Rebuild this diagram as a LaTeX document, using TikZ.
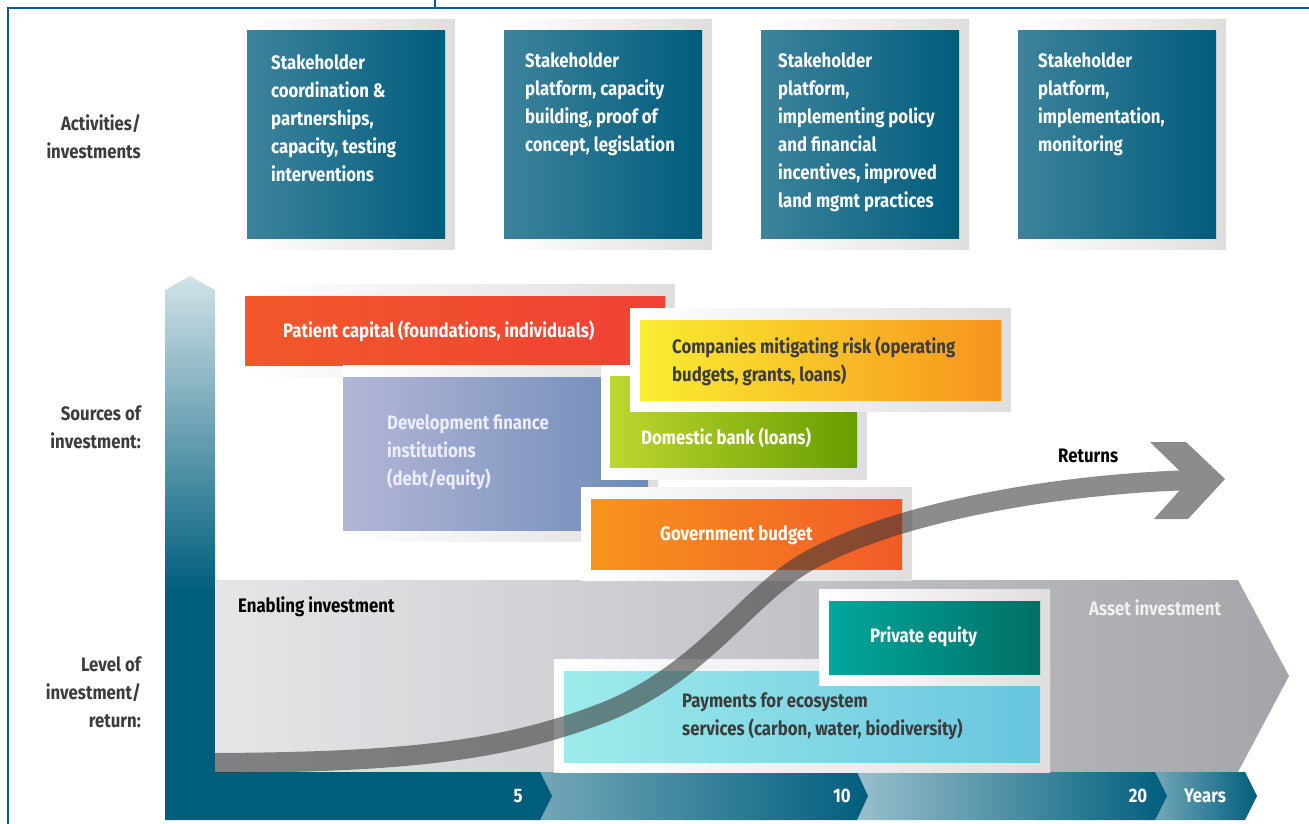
\documentclass[tikz,border=0pt]{standalone}
\usepackage{fontspec}
\setmainfont{Fira Sans}[FakeStretch=0.86]
\usetikzlibrary{calc}
\definecolor{frameblue}{RGB}{0,95,134}
\definecolor{tealdark}{RGB}{0,92,124}
\definecolor{teallight}{RGB}{62,131,156}
\definecolor{tealaxis}{RGB}{0,94,125}
\definecolor{axistop}{RGB}{210,226,232}
\definecolor{shadowgray}{RGB}{224,221,221}
\definecolor{labelgray}{RGB}{60,60,60}
\definecolor{bandlight}{RGB}{229,230,232}
\definecolor{bandmid}{RGB}{206,207,210}
\definecolor{banddark}{RGB}{164,165,169}
\definecolor{patientl}{RGB}{241,88,42}
\definecolor{patientr}{RGB}{239,65,54}
\definecolor{devl}{RGB}{180,182,214}
\definecolor{devr}{RGB}{109,139,184}
\definecolor{bankl}{RGB}{190,214,48}
\definecolor{bankr}{RGB}{104,157,0}
\definecolor{compl}{RGB}{249,237,50}
\definecolor{compr}{RGB}{247,148,29}
\definecolor{govl}{RGB}{247,148,29}
\definecolor{govr}{RGB}{241,90,41}
\definecolor{equityl}{RGB}{0,167,157}
\definecolor{equityr}{RGB}{0,112,101}
\definecolor{pesl}{RGB}{158,235,234}
\definecolor{pesr}{RGB}{104,197,224}
\definecolor{returnsgray}{RGB}{58,56,57}

\tikzset{
  txt/.style={font=\fontsize{19.5}{28}\selectfont\bfseries, inner sep=0pt, align=left},
  panel/.style={left color=white, right color=shadowgray},
  actbox/.style={left color=teallight, right color=tealdark},
  sidelabel/.style={txt, align=right, anchor=east, labelgray},
}

\begin{document}
\begin{tikzpicture}[x=1pt, y=-1pt]
    \useasboundingbox (0,0) rectangle (1309,824);

    % frame
    \draw[frameblue, line width=2] (8,824) -- (8,8) -- (1309,8);
    \draw[frameblue, line width=2] (435,0) -- (435,8);

    % activities
    \shade[panel] (247,20) rectangle (455,249);
    \shade[actbox] (247,31) rectangle (445,238);
    \shade[panel] (504,20) rectangle (712,249);
    \shade[actbox] (504,31) rectangle (702,238);
    \shade[panel] (761,20) rectangle (969,249);
    \shade[actbox] (761,31) rectangle (959,238);
    \shade[panel] (1018,20) rectangle (1226,249);
    \shade[actbox] (1018,31) rectangle (1216,238);

    % vertical axis
    \shade[top color=axistop, bottom color=tealaxis]
        (165,290) -- (190,276) -- (215,290) -- (215,590) -- (165,590) -- cycle;
    \fill[tealaxis] (165,589) rectangle (215,820);

    % enabling / asset band
    \shade[left color=bandlight, middle color=bandmid, right color=banddark]
        (215,580) -- (1238,580) -- (1289,676) -- (1238,772) -- (215,772) -- cycle;

    % sources of investment
    \shade[panel] (245,284) rectangle (675,377);
    \shade[left color=patientl, right color=patientr] (245,296) rectangle (665,365);
    \shade[panel] (343,365) rectangle (658,541);
    \shade[left color=devl, middle color=devr, right color=devr] (343,377) rectangle (648,530);
    \shade[panel] (601,365) rectangle (867,479);
    \shade[left color=bankl, right color=bankr] (610,376) rectangle (857,467);
    \shade[panel] (630,308) rectangle (1011,411);
    \shade[left color=compl, right color=compr] (640,320) rectangle (1001,400);
    \shade[panel] (581,487) rectangle (912,580);
    \shade[left color=govl, right color=govr] (591,499) rectangle (902,569);

    % time axis
    \shade[left color=tealaxis!55!white, right color=tealaxis]
        (1155,772) -- (1245,772) -- (1257,796) -- (1245,820) -- (1155,820) -- cycle;
    \shade[left color=tealaxis!40!white, right color=tealaxis]
        (857,772) -- (1155,772) -- (1167,796) -- (1155,820) -- (857,820) -- cycle;
    \shade[left color=tealaxis!55!white, right color=tealaxis]
        (540,772) -- (857,772) -- (868,796) -- (857,820) -- (540,820) -- cycle;
    \fill[tealaxis] (165,772) -- (540,772) -- (552,796) -- (540,820) -- (165,820) -- cycle;

    % level of investment
    \shade[panel] (554,659) rectangle (1050,772);
    \shade[left color=pesl, middle color=pesr, right color=pesr] (564,671) rectangle (1040,762);
    \shade[panel] (819,589) rectangle (1050,685);
    \shade[left color=equityl, right color=equityr] (829,601) rectangle (1040,674);

    % returns
    \begin{scope}[transparency group, opacity=0.58]
        \draw[returnsgray, line width=20] (215,763)
            .. controls (400,762) and (500,752) .. (600,714)
            .. controls (700,676) and (745,598) .. (805,563)
            .. controls (890,514) and (1050,484) .. (1194,480);
        \fill[returnsgray] (1150,442) -- (1186,442) -- (1225,479) -- (1188,519)
            -- (1154,519) -- (1189,480) -- cycle;
    \end{scope}

    % texts
    \node[sidelabel] (actlabel) at (141,137) {Activities/\\investments};
    \node[sidelabel] (srclabel) at (141,427) {Sources of\\investment:};
    \node[sidelabel] (lvllabel) at (141,692) {Level of\\investment/\\return:};

    \node[txt, anchor=west, white] (act1) at (271,118)
        {Stakeholder\\coordination \&\\partnerships,\\capacity, testing\\interventions};
    \node[txt, anchor=west, white] (act2) at (525,104)
        {Stakeholder\\platform, capacity\\building, proof of\\concept, legislation};
    \node[txt, anchor=west, white] (act3) at (778,132)
        {Stakeholder\\platform,\\implementing policy\\and financial\\incentives, improved\\land mgmt practices};
    \node[txt, anchor=west, white] (act4) at (1038,104)
        {Stakeholder\\platform,\\implementation,\\monitoring};

    \node[txt, anchor=west, white] (patient) at (283,331) {Patient capital (foundations, individuals)};
    \node[txt, anchor=west, white!93!blue] (devfin) at (387,452)
        {Development finance\\institutions\\(debt/equity)};
    \node[txt, anchor=west, white] (bank) at (641,438) {Domestic bank (loans)};
    \node[txt, anchor=west, labelgray] (companies) at (672,361)
        {Companies mitigating risk (operating\\budgets, grants, loans)};
    \node[txt, anchor=west, white] (govbudget) at (660,535) {Government budget};

    \node[txt, anchor=west, black] (enabling) at (238,607) {Enabling investment};
    \node[txt, anchor=west, white!94!black] (asset) at (1089,608) {Asset investment};
    \node[txt, anchor=west, white] (equity) at (870,637) {Private equity};
    \node[txt, anchor=west, labelgray] (pes) at (682,716)
        {Payments for ecosystem\\services (carbon, water, biodiversity)};
    \node[txt, anchor=west, black] (returns) at (1058,456) {Returns};

    \node[txt, white] (yr5) at (518,796) {5};
    \node[txt, white] (yr10) at (842,796) {10};
    \node[txt, white] (yr20) at (1138,796) {20};
    \node[txt, white] (years) at (1205,796) {Years};
\end{tikzpicture}
\end{document}
